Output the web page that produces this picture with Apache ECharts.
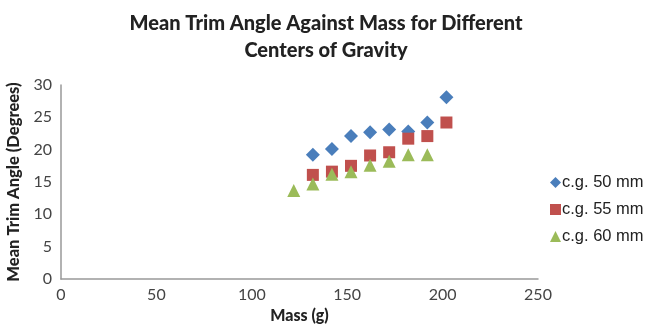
<!DOCTYPE html>
<html>
<head>
<meta charset="utf-8">
<script src="https://cdn.jsdelivr.net/npm/echarts@6/dist/echarts.min.js"></script>
<style>
  html, body { margin: 0; padding: 0; background: #fff; }
  #chart { width: 652px; height: 324px; }
</style>
</head>
<body>
<div id="chart"></div>
<script>
// masses (g) and mean trim angles (degrees)
const mass50 = [132, 142, 152, 162, 172, 182, 192, 202]
const angle50 = [19.2, 20.1, 22.1, 22.7, 23.1, 22.8, 24.2, 28.1]
const mass55 = [132, 142, 152, 162, 172, 182, 192, 202]
const angle55 = [16.1, 16.6, 17.5, 19.1, 19.6, 21.7, 22.1, 24.2]
const mass60 = [122, 132, 142, 152, 162, 172, 182, 192]
const angle60 = [13.7, 14.7, 16.2, 16.6, 17.6, 18.2, 19.2, 19.2]
const seriesNames = ['c.g. 50 mm', 'c.g. 55 mm', 'c.g. 60 mm']

const font = 'Lato, "Open Sans", sans-serif'
const zip = (xs, ys) => xs.map((x, i) => [x, ys[i]])

const chart = echarts.init(document.getElementById('chart'), null, { renderer: 'canvas' })
chart.setOption({
  animation: false,
  backgroundColor: '#fff',
  title: {
    text: 'Mean Trim Angle Against Mass for Different\nCenters of Gravity',
    left: 'center', top: 5,
    textStyle: { fontFamily: font, fontSize: 20, fontWeight: 900, color: '#222', lineHeight: 27 },
  },
  grid: { left: 61, right: 114, top: 85, bottom: 45, outerBoundsMode: 'none' },
  xAxis: {
    type: 'value', min: 0, max: 250, interval: 50,
    name: 'Mass (g)', nameLocation: 'middle', nameGap: 28,
    nameTextStyle: { fontFamily: font, fontSize: 16, fontWeight: 900, color: '#222' },
    axisLine: { lineStyle: { color: '#999', width: 1.5 } },
    axisTick: { show: false },
    splitLine: { show: false },
    axisLabel: { fontFamily: font, fontSize: 16, color: '#444', margin: 8 },
  },
  yAxis: {
    type: 'value', min: 0, max: 30, interval: 5,
    name: 'Mean Trim Angle (Degrees)', nameLocation: 'middle', nameGap: 36,
    nameTextStyle: { fontFamily: font, fontSize: 16.5, fontWeight: 900, color: '#222' },
    axisLine: { show: true, lineStyle: { color: '#999', width: 1.5 } },
    axisTick: { show: false },
    splitLine: { show: false },
    axisLabel: { fontFamily: font, fontSize: 16, color: '#444', margin: 9 },
  },
  legend: {
    orient: 'vertical', left: 545, top: 169, itemGap: 10,
    itemWidth: 11, itemHeight: 11,
    textStyle: { fontFamily: '"Liberation Sans", Arial, sans-serif', fontSize: 16.5, color: '#222', padding: [0, 0, 0, -4] },
    data: [
      { name: seriesNames[0], icon: 'diamond' },
      { name: seriesNames[1], icon: 'rect' },
      { name: seriesNames[2], icon: 'triangle' },
    ],
  },
  series: [
    { name: seriesNames[0], type: 'scatter', symbol: 'diamond', symbolSize: 14, data: zip(mass50, angle50), itemStyle: { color: '#4a7ebb', opacity: 1 } },
    { name: seriesNames[1], type: 'scatter', symbol: 'rect', symbolSize: 12, data: zip(mass55, angle55), itemStyle: { color: '#c0504d', opacity: 1 } },
    { name: seriesNames[2], type: 'scatter', symbol: 'triangle', symbolSize: 13, data: zip(mass60, angle60), itemStyle: { color: '#9bbb59', opacity: 1 } },
  ],
})
</script>
</body>
</html>
